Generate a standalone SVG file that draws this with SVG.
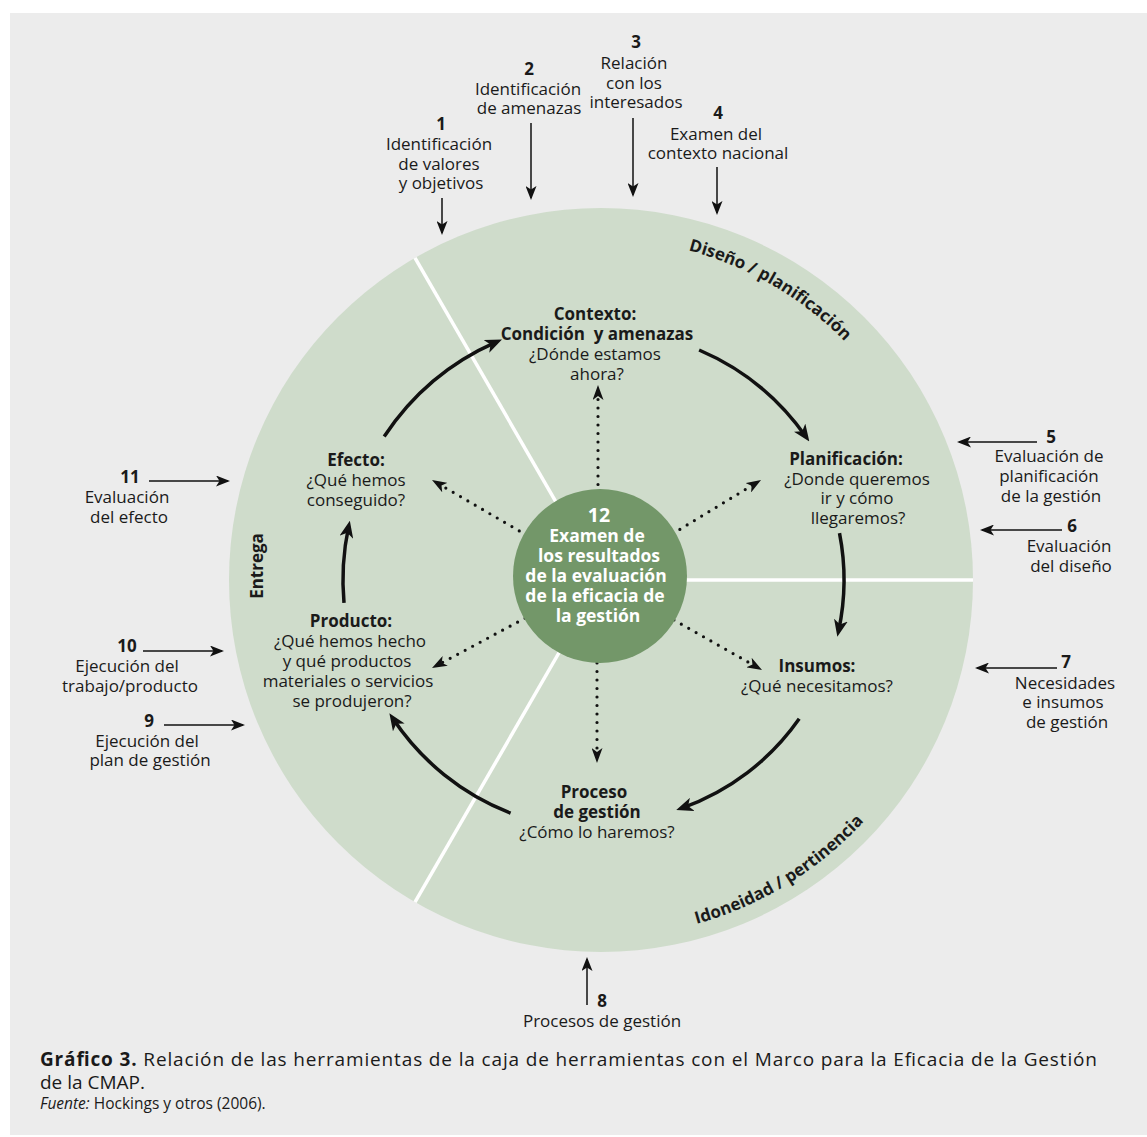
<svg xmlns="http://www.w3.org/2000/svg" width="1147" height="1137" viewBox="0 0 1147 1137">
<style>
text{font-family:"Open Sans","Noto Sans","Liberation Sans",sans-serif;fill:#1a1a1a;font-size:17px;text-anchor:middle;}
.b{font-weight:bold;}
.w{fill:#ffffff;font-weight:bold;font-size:17.5px;}
.cap{text-anchor:start;font-size:19px;}
.src{text-anchor:start;font-size:15.5px;}
.tool{stroke:#111;stroke-width:1.5;fill:none;marker-end:url(#sa);}
.main{stroke:#111;stroke-width:3.5;fill:none;marker-end:url(#ma);}
.dot{stroke:#111;stroke-width:3.2;stroke-linecap:round;stroke-dasharray:0 8.5;fill:none;marker-end:url(#da);}
.div{stroke:#ffffff;stroke-width:3.5;}
.arc{font-size:17px;font-weight:bold;}
</style>
<defs>
<marker id="sa" viewBox="0 0 14 11" refX="12" refY="5.5" markerWidth="14" markerHeight="11" markerUnits="userSpaceOnUse" orient="auto"><path d="M0,0 L14,5.5 L0,11 L3.5,5.5 z" fill="#111"/></marker>
<marker id="ma" viewBox="0 0 17 14" refX="11" refY="7" markerWidth="17" markerHeight="14" markerUnits="userSpaceOnUse" orient="auto"><path d="M0,0 L17,7 L0,14 L4.5,7 z" fill="#111"/></marker>
<marker id="da" viewBox="0 0 15 11" refX="9" refY="5.5" markerWidth="15" markerHeight="11" markerUnits="userSpaceOnUse" orient="auto"><path d="M0,0 L15,5.5 L0,11 L4,5.5 z" fill="#111"/></marker>
<path id="arcTop" d="M572.5,240.2 A341,341 0 0 1 910.6,437"/>
<path id="arcBot" d="M579.2,936.3 A357,357 0 0 0 928.4,722.4"/>
</defs>
<rect x="0" y="0" width="1147" height="1137" fill="#ffffff"/>
<rect x="10" y="13" width="1137" height="1122" fill="#ececec"/>

<g id="framework">
<circle cx="601" cy="580" r="372" fill="#cfdccb"/>
<line class="div" x1="601" y1="580" x2="415" y2="257.8"/>
<line class="div" x1="601" y1="580" x2="415" y2="902.2"/>
<line class="div" x1="601" y1="580" x2="973" y2="580"/>
<text class="arc"><textPath href="#arcTop" startOffset="50%">Diseño / planificación</textPath></text>
<text class="arc"><textPath href="#arcBot" startOffset="50%">Idoneidad / pertinencia</textPath></text>
<text class="b" transform="translate(263,566) rotate(-90)">Entrega</text>
</g>

<g id="connectors">
<line class="dot" x1="598" y1="578" x2="598" y2="391"/>
<line class="dot" x1="600" y1="578" x2="437.2" y2="483"/>
<line class="dot" x1="600" y1="578" x2="437.3" y2="665.2"/>
<line class="dot" x1="600" y1="578" x2="755.9" y2="483.1"/>
<line class="dot" x1="600" y1="578" x2="756.8" y2="667"/>
<line class="dot" x1="597" y1="578" x2="597" y2="757"/>
<path class="main" d="M384.2,436.5 A260,260 0 0 1 496.5,341.9"/>
<path class="main" d="M699.1,350 A250,250 0 0 1 805.9,436.7"/>
<path class="main" d="M839.5,533.2 A243,243 0 0 1 838.6,630.9"/>
<path class="main" d="M799.2,718.8 A242,242 0 0 1 681.9,808.1"/>
<path class="main" d="M510.6,813.1 A250,250 0 0 1 392.7,718.3"/>
<path class="main" d="M344,602.9 A258,258 0 0 1 348.6,526.5"/>
<path class="tool" d="M442,198 V233"/>
<path class="tool" d="M531,123 V198"/>
<path class="tool" d="M633,118 V195"/>
<path class="tool" d="M717,167 V213"/>
<path class="tool" d="M1037,442 H959"/>
<path class="tool" d="M1062,530 H982"/>
<path class="tool" d="M1057,668 H977"/>
<path class="tool" d="M587,1005 V959"/>
<path class="tool" d="M164,725 H243"/>
<path class="tool" d="M143,651 H222"/>
<path class="tool" d="M149,481 H228"/>
</g>

<g id="n-centro">
<circle cx="600" cy="576" r="87" fill="#739769"/>
<text class="w"><tspan x="599" y="522" style="font-size:19.5px">12</tspan><tspan x="597" y="542">Examen de</tspan><tspan x="599" y="562">los resultados</tspan><tspan x="596" y="582">de la evaluación</tspan><tspan x="595" y="602">de la eficacia de</tspan><tspan x="598" y="622">la gestión</tspan></text>
</g>

<g id="n-contexto">
<text><tspan class="b" x="595" y="320">Contexto:</tspan><tspan class="b" x="597" y="340" style="white-space:pre">Condición  y amenazas</tspan><tspan x="595" y="360">¿Dónde estamos</tspan><tspan x="597" y="380">ahora?</tspan></text>
</g>
<g id="n-planificacion">
<text><tspan class="b" x="846" y="465">Planificación:</tspan><tspan x="857" y="485">¿Donde queremos</tspan><tspan x="857" y="504">ir y cómo</tspan><tspan x="858" y="524">llegaremos?</tspan></text>
</g>
<g id="n-insumos">
<text><tspan class="b" x="817" y="672">Insumos:</tspan><tspan x="817" y="692">¿Qué necesitamos?</tspan></text>
</g>
<g id="n-proceso">
<text><tspan class="b" x="594" y="798">Proceso</tspan><tspan class="b" x="597" y="818">de gestión</tspan><tspan x="597" y="838">¿Cómo lo haremos?</tspan></text>
</g>
<g id="n-producto">
<text><tspan class="b" x="351" y="627">Producto:</tspan><tspan x="350" y="647">¿Qué hemos hecho</tspan><tspan x="347" y="667">y qué productos</tspan><tspan x="348" y="687">materiales o servicios</tspan><tspan x="352" y="707">se produjeron?</tspan></text>
</g>
<g id="n-efecto">
<text><tspan class="b" x="356" y="466">Efecto:</tspan><tspan x="356" y="486">¿Qué hemos</tspan><tspan x="356" y="506">conseguido?</tspan></text>
</g>

<g id="t1">
<text><tspan class="b" x="441" y="130">1</tspan><tspan x="439" y="150">Identificación</tspan><tspan x="439" y="170">de valores</tspan><tspan x="441" y="189">y objetivos</tspan></text>
</g>
<g id="t2">
<text><tspan class="b" x="529" y="75">2</tspan><tspan x="528" y="95">Identificación</tspan><tspan x="529" y="114">de amenazas</tspan></text>
</g>
<g id="t3">
<text><tspan class="b" x="636" y="48">3</tspan><tspan x="634" y="69">Relación</tspan><tspan x="634" y="89">con los</tspan><tspan x="636" y="108">interesados</tspan></text>
</g>
<g id="t4">
<text><tspan class="b" x="718" y="119">4</tspan><tspan x="716" y="140">Examen del</tspan><tspan x="718" y="159">contexto nacional</tspan></text>
</g>
<g id="t5">
<text><tspan class="b" x="1051" y="443">5</tspan><tspan x="1049" y="462">Evaluación de</tspan><tspan x="1049" y="482">planificación</tspan><tspan x="1051" y="502">de la gestión</tspan></text>
</g>
<g id="t6">
<text><tspan class="b" x="1072" y="532">6</tspan><tspan x="1069" y="552">Evaluación</tspan><tspan x="1071" y="572">del diseño</tspan></text>
</g>
<g id="t7">
<text><tspan class="b" x="1066" y="668">7</tspan><tspan x="1065" y="689">Necesidades</tspan><tspan x="1063" y="708">e insumos</tspan><tspan x="1067" y="728">de gestión</tspan></text>
</g>
<g id="t8">
<text><tspan class="b" x="602" y="1007">8</tspan><tspan x="602" y="1027">Procesos de gestión</tspan></text>
</g>
<g id="t9">
<text><tspan class="b" x="149" y="727">9</tspan><tspan x="147" y="747">Ejecución del</tspan><tspan x="150" y="766">plan de gestión</tspan></text>
</g>
<g id="t10">
<text><tspan class="b" x="127" y="652">10</tspan><tspan x="127" y="672">Ejecución del</tspan><tspan x="130" y="692">trabajo/producto</tspan></text>
</g>
<g id="t11">
<text><tspan class="b" x="130" y="483">11</tspan><tspan x="127" y="503">Evaluación</tspan><tspan x="129" y="523">del efecto</tspan></text>
</g>

<g id="caption">
<text class="cap"><tspan x="40" y="1066" textLength="1057"><tspan font-weight="bold">Gráfico 3.</tspan> Relación de las herramientas de la caja de herramientas con el Marco para la Eficacia de la Gestión</tspan><tspan x="40" y="1089">de la CMAP.</tspan><tspan class="src" x="40" y="1109"><tspan font-style="italic">Fuente:</tspan> Hockings y otros (2006).</tspan></text>
</g>
</svg>
